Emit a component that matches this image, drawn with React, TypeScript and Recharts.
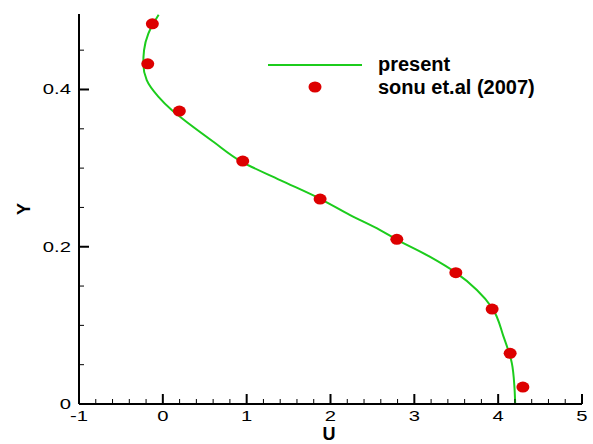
import { ComposedChart, Line, Scatter, XAxis, YAxis, Legend } from "recharts"

// green curve (present), ordered by Y
const lineY = [0, 0.02, 0.052, 0.086, 0.122, 0.145, 0.167, 0.187, 0.209, 0.2212, 0.2403, 0.261, 0.2848, 0.308, 0.3335, 0.3653, 0.374, 0.391, 0.412, 0.433, 0.45, 0.471, 0.495]
const lineU = [4.203, 4.195, 4.163, 4.063, 3.93, 3.746, 3.495, 3.189, 2.791, 2.592, 2.234, 1.876, 1.399, 0.942, 0.603, 0.205, 0.106, -0.054, -0.192, -0.233, -0.224, -0.173, -0.05]

// red dots (sonu et.al 2007)
const dotY = [0.0216, 0.0645, 0.1208, 0.167, 0.2094, 0.2607, 0.309, 0.3725, 0.4327, 0.4835]
const dotU = [4.295, 4.143, 3.928, 3.495, 2.791, 1.876, 0.953, 0.197, -0.18, -0.125]

const xTicks = [-1, -0.8, -0.6, -0.4, -0.2, 0, 0.2, 0.4, 0.6, 0.8, 1, 1.2, 1.4, 1.6, 1.8, 2, 2.2, 2.4, 2.6, 2.8, 3, 3.2, 3.4, 3.6, 3.8, 4, 4.2, 4.4, 4.6, 4.8, 5]
const yTicks = [0, 0.05, 0.1, 0.15, 0.2, 0.25, 0.3, 0.35, 0.4, 0.45]

const lineData = lineY.map((y, i) => ({ u: lineU[i], y }))
const dotData = dotY.map((y, i) => ({ u: dotU[i], y }))

const FONT = "'Liberation Sans', Arial, Helvetica, sans-serif"
const GREEN = "#1ccc1c"
const RED = "#dd0000"

// tick labels in the original are drawn a bit wide
const XTick = (props: any) => {
  const { x, y, payload } = props
  const v = payload.value
  const major = Math.abs(v - Math.round(v)) < 1e-6
  return (
    <g>
      <line x1={x} y1={y} x2={x} y2={y - (major ? 10 : 5)} stroke="#000" strokeWidth={major ? 2 : 1} />
      {major && (
        <text
          transform={`translate(${x},${y + 17}) scale(1.35,1)`}
          textAnchor="middle"
          fontSize={15}
          fontFamily={FONT}
          fill="#000"
        >
          {Math.round(v)}
        </text>
      )}
    </g>
  )
}

const YTick = (props: any) => {
  const { x, y, payload } = props
  const v = payload.value
  const major = Math.abs(v * 5 - Math.round(v * 5)) < 1e-6
  return (
    <g>
      <line x1={x} y1={y} x2={x + (major ? 10 : 5)} y2={y} stroke="#000" strokeWidth={major ? 2 : 1} />
      {major && (
        <text
          transform={`translate(${x - 8},${y + 5}) scale(1.35,1)`}
          textAnchor="end"
          fontSize={15}
          fontFamily={FONT}
          fill="#000"
        >
          {v === 0 ? "0" : v.toFixed(1)}
        </text>
      )}
    </g>
  )
}

const Dot = (props: any) => {
  const { cx, cy } = props
  return <ellipse cx={cx} cy={cy} rx={6.5} ry={5.5} fill={RED} />
}

const LegendBox = () => (
  <div style={{ position: "relative", width: 300, height: 50, fontFamily: FONT, fontWeight: "bold", fontSize: 20 }}>
    <svg width={100} height={50} style={{ position: "absolute", left: 0, top: 0 }}>
      <line x1={0} y1={7} x2={94} y2={7} stroke={GREEN} strokeWidth={2} />
      <ellipse cx={47} cy={29} rx={6.5} ry={5.5} fill={RED} />
    </svg>
    <div style={{ position: "absolute", left: 110, top: -5, lineHeight: "23px", whiteSpace: "nowrap" }}>present</div>
    <div style={{ position: "absolute", left: 110, top: 18, lineHeight: "23px", whiteSpace: "nowrap" }}>sonu et.al (2007)</div>
  </div>
)

export default function App() {
  return (
    <div style={{ position: "absolute", left: 0, top: 0, background: "#fff" }}>
      <ComposedChart width={593} height={444} margin={{ top: 14, right: 11, bottom: 0, left: 0 }}>
        <XAxis
          type="number"
          dataKey="u"
          domain={[-1, 5]}
          ticks={xTicks}
          interval={0}
          tickSize={0}
          tickMargin={0}
          tick={<XTick />}
          axisLine={{ stroke: "#000", strokeWidth: 2 }}
          height={40}
          label={() => (
            <text x={329} y={440} textAnchor="middle" fontSize={18} fontWeight="bold" fontFamily={FONT} fill="#000">
              U
            </text>
          )}
        />
        <YAxis
          type="number"
          dataKey="y"
          domain={[0, 0.496]}
          ticks={yTicks}
          interval={0}
          tickSize={0}
          tickMargin={0}
          tick={<YTick />}
          axisLine={{ stroke: "#000", strokeWidth: 2 }}
          width={79}
          label={() => (
            <text
              x={24}
              y={209}
              transform="rotate(-90 24 209)"
              textAnchor="middle"
              dominantBaseline="central"
              fontSize={18}
              fontWeight="bold"
              fontFamily={FONT}
              fill="#000"
            >
              Y
            </text>
          )}
        />
        <Line
          data={lineData}
          dataKey="y"
          type="monotoneY"
          stroke={GREEN}
          strokeWidth={2}
          dot={false}
          activeDot={false}
          isAnimationActive={false}
        />
        <Scatter data={dotData} dataKey="y" shape={<Dot />} isAnimationActive={false} />
        <Legend
          layout="horizontal"
          verticalAlign="middle"
          align="center"
          content={<LegendBox />}
          wrapperStyle={{ position: "absolute", left: 268, top: 58, width: 300 }}
        />
      </ComposedChart>
    </div>
  )
}
